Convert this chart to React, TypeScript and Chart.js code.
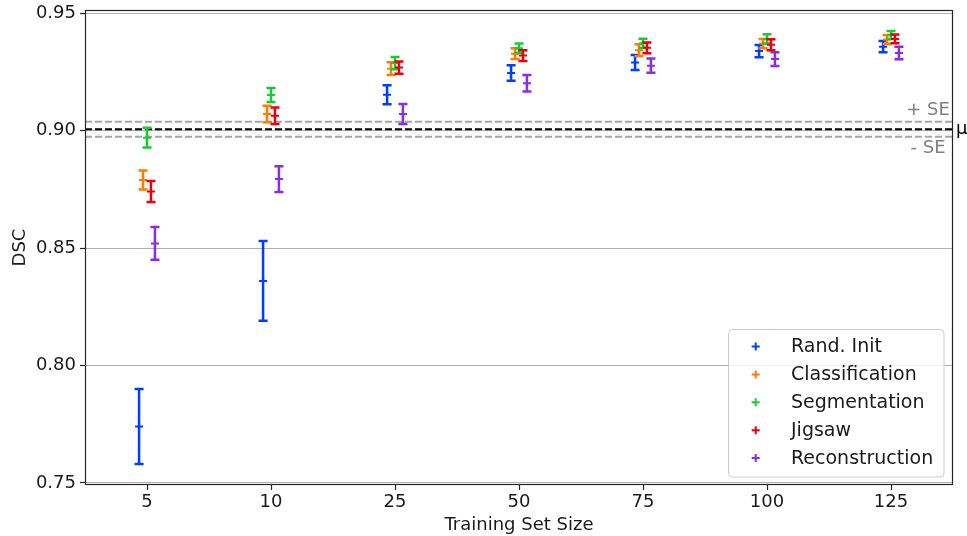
import React, { useEffect, useRef } from 'react';
import { Chart, registerables } from 'chart.js';

Chart.register(...registerables);

// ---------- data ----------
const categories = ['5', '10', '25', '50', '75', '100', '125'];
const seriesNames = ['Rand. Init', 'Classification', 'Segmentation', 'Jigsaw', 'Reconstruction'];
const seriesColors = ['#023eff', '#ff7c00', '#1ac938', '#e8000b', '#8b2be2'];
const seriesOffsets = [-0.064, -0.032, 0, 0.032, 0.064];

const randInit = [0.774, 0.836, 0.9153, 0.9246, 0.929, 0.9339, 0.9358];
const randInitErr = [0.016, 0.017, 0.004, 0.0033, 0.0032, 0.0026, 0.0024];
const classification = [0.879, 0.9071, 0.9264, 0.9328, 0.9343, 0.9371, 0.9388];
const classificationErr = [0.004, 0.0035, 0.0027, 0.0023, 0.0025, 0.002, 0.0019];
const segmentation = [0.897, 0.9152, 0.9288, 0.9351, 0.9372, 0.9391, 0.9408];
const segmentationErr = [0.0042, 0.003, 0.0026, 0.002, 0.002, 0.002, 0.0017];
const jigsaw = [0.8741, 0.9064, 0.9269, 0.932, 0.9353, 0.9366, 0.9391];
const jigsawErr = [0.0045, 0.0035, 0.0026, 0.0023, 0.0023, 0.0023, 0.0019];
const reconstruction = [0.852, 0.8794, 0.9071, 0.9202, 0.9277, 0.9305, 0.9331];
const reconstructionErr = [0.007, 0.0055, 0.0043, 0.0035, 0.003, 0.0029, 0.0027];

const seriesValues = [randInit, classification, segmentation, jigsaw, reconstruction];
const seriesErrors = [randInitErr, classificationErr, segmentationErr, jigsawErr, reconstructionErr];

const yTicks = [0.75, 0.8, 0.85, 0.9, 0.95];
const meanDSC = 0.9006;
const seDSC = 0.0032;

const FONT = "'DejaVu Sans', sans-serif";
const TEXT = '#1a1a1a';

const errorBarPlugin = {
  id: 'errorBars',
  beforeDatasetDraw(chart: any, args: any) {
    const ds = chart.data.datasets[args.index];
    const errs: number[] = ds.errors;
    if (!errs) return;
    const { ctx } = chart;
    const xs = chart.scales.x;
    const ys = chart.scales.y;
    ctx.save();
    ctx.strokeStyle = ds.borderColor;
    ctx.lineWidth = 2.5;
    ds.data.forEach((p: any, j: number) => {
      const px = xs.getPixelForValue(p.x);
      const top = ys.getPixelForValue(p.y + errs[j]);
      const bot = ys.getPixelForValue(p.y - errs[j]);
      ctx.beginPath();
      ctx.moveTo(px, top);
      ctx.lineTo(px, bot);
      ctx.moveTo(px - 4.5, top);
      ctx.lineTo(px + 4.5, top);
      ctx.moveTo(px - 4.5, bot);
      ctx.lineTo(px + 4.5, bot);
      ctx.stroke();
    });
    ctx.restore();
  },
};

const refLinesPlugin = {
  id: 'refLines',
  beforeDatasetsDraw(chart: any) {
    const { ctx, chartArea } = chart;
    const ys = chart.scales.y;
    const lines = [
      { v: meanDSC + seDSC, c: '#a6a6a6' },
      { v: meanDSC - seDSC, c: '#a6a6a6' },
      { v: meanDSC, c: '#000000' },
    ];
    ctx.save();
    ctx.lineWidth = 2;
    ctx.setLineDash([7, 3]);
    lines.forEach((l) => {
      const y = ys.getPixelForValue(l.v);
      ctx.strokeStyle = l.c;
      ctx.beginPath();
      ctx.moveTo(chartArea.left, y);
      ctx.lineTo(chartArea.right, y);
      ctx.stroke();
    });
    ctx.restore();
  },
  afterDraw(chart: any) {
    const { ctx, chartArea } = chart;
    const ys = chart.scales.y;
    ctx.save();
    // frame
    ctx.strokeStyle = '#262626';
    ctx.lineWidth = 1.2;
    ctx.strokeRect(chartArea.left + 0.5, chartArea.top + 0.5, chartArea.right - chartArea.left - 1, chartArea.bottom - chartArea.top - 1);

    // annotations
    ctx.font = `18px ${FONT}`;
    ctx.textBaseline = 'alphabetic';
    ctx.fillStyle = '#808080';
    ctx.textAlign = 'center';
    const yPlus = ys.getPixelForValue(meanDSC + seDSC);
    const yMinus = ys.getPixelForValue(meanDSC - seDSC);
    const yMean = ys.getPixelForValue(meanDSC);
    ctx.fillText('+ SE', chartArea.right - 25, yPlus - 7);
    ctx.fillText('- SE', chartArea.right - 25, yMinus + 16.5);
    ctx.fillStyle = '#000';
    ctx.textAlign = 'left';
    ctx.fillText('μ', chartArea.right + 3, yMean + 4.5);

    // legend
    const bx = 728.5, by = 329.5, bw = 215.5, bh = 147.5, r = 4;
    ctx.beginPath();
    ctx.moveTo(bx + r, by);
    ctx.lineTo(bx + bw - r, by);
    ctx.quadraticCurveTo(bx + bw, by, bx + bw, by + r);
    ctx.lineTo(bx + bw, by + bh - r);
    ctx.quadraticCurveTo(bx + bw, by + bh, bx + bw - r, by + bh);
    ctx.lineTo(bx + r, by + bh);
    ctx.quadraticCurveTo(bx, by + bh, bx, by + bh - r);
    ctx.lineTo(bx, by + r);
    ctx.quadraticCurveTo(bx, by, bx + r, by);
    ctx.closePath();
    ctx.fillStyle = 'rgba(255,255,255,0.8)';
    ctx.fill();
    ctx.strokeStyle = '#cccccc';
    ctx.lineWidth = 1;
    ctx.stroke();

    chart.data.datasets.forEach((ds: any, k: number) => {
      const cy = 346.5 + k * 27.9;
      ctx.strokeStyle = ds.borderColor;
      ctx.lineWidth = 2;
      ctx.setLineDash([]);
      ctx.beginPath();
      ctx.moveTo(751.7, cy);
      ctx.lineTo(759.7, cy);
      ctx.moveTo(755.7, cy - 4);
      ctx.lineTo(755.7, cy + 4);
      ctx.stroke();
      ctx.fillStyle = TEXT;
      ctx.textAlign = 'left';
      ctx.font = `19px ${FONT}`;
      ctx.fillText(ds.label, 791, cy + 5.6);
    });
    ctx.restore();
  },
};

export default function App() {
  const canvasRef = useRef<HTMLCanvasElement | null>(null);

  useEffect(() => {
    if (!canvasRef.current) return;
    const datasets = seriesNames.map((name, i) => ({
      label: name,
      data: seriesValues[i].map((v, j) => ({ x: j + seriesOffsets[i], y: v })),
      errors: seriesErrors[i],
      borderColor: seriesColors[i],
      backgroundColor: seriesColors[i],
      pointStyle: 'cross',
      pointRadius: 4,
      pointHoverRadius: 4,
      borderWidth: 2,
      showLine: false,
      order: seriesNames.length - 1 - i,
    }));

    const chart = new Chart(canvasRef.current, {
      type: 'scatter',
      data: { datasets } as any,
      plugins: [errorBarPlugin, refLinesPlugin],
      options: {
        animation: false,
        responsive: false,
        maintainAspectRatio: false,
        devicePixelRatio: 1,
        events: [],
        layout: { padding: { left: 0, right: 14, top: 10, bottom: 0 } },
        font: { family: FONT },
        plugins: { legend: { display: false }, tooltip: { enabled: false } },
        scales: {
          x: {
            type: 'linear',
            min: -0.5,
            max: 6.5,
            afterBuildTicks: (s: any) => {
              s.ticks = categories.map((_, i) => ({ value: i }));
            },
            afterFit: (s: any) => {
              s.height = 51;
              s.paddingLeft = 0;
              s.paddingRight = 0;
            },
            ticks: {
              autoSkip: false,
              maxRotation: 0,
              minRotation: 0,
              padding: 2,
              color: TEXT,
              font: { family: FONT, size: 18 },
              callback: (v: any) => categories[Math.round(Number(v))],
            },
            grid: { drawOnChartArea: false, drawTicks: true, tickLength: 5, tickColor: '#262626', tickWidth: 1.2 },
            border: { display: false },
            title: {
              display: true,
              text: 'Training Set Size',
              color: TEXT,
              font: { family: FONT, size: 18 },
              padding: { top: 0, bottom: 0 },
            },
          },
          y: {
            type: 'linear',
            min: 0.7491,
            max: 0.9514,
            afterBuildTicks: (s: any) => {
              s.ticks = yTicks.map((v) => ({ value: v }));
            },
            afterFit: (s: any) => {
              s.width = 85;
              s.paddingTop = 0;
              s.paddingBottom = 0;
            },
            ticks: {
              padding: 4,
              color: TEXT,
              font: { family: FONT, size: 18 },
              callback: (v: any) => Number(v).toFixed(2),
            },
            grid: { color: '#b0b0b0', lineWidth: 1, drawTicks: true, tickLength: 5, tickColor: '#262626', tickWidth: 1.2 },
            border: { display: false },
            title: {
              display: true,
              text: 'DSC',
              color: TEXT,
              font: { family: FONT, size: 18 },
              padding: { top: 10, bottom: 0 },
            },
          },
        },
      } as any,
    });
    return () => chart.destroy();
  }, []);

  return (
    <div style={{ position: 'fixed', left: 0, top: 0, width: 967, height: 536, background: '#fff' }}>
      <canvas ref={canvasRef} width={967} height={536} style={{ display: 'block', width: 967, height: 536 }} />
    </div>
  );
}
